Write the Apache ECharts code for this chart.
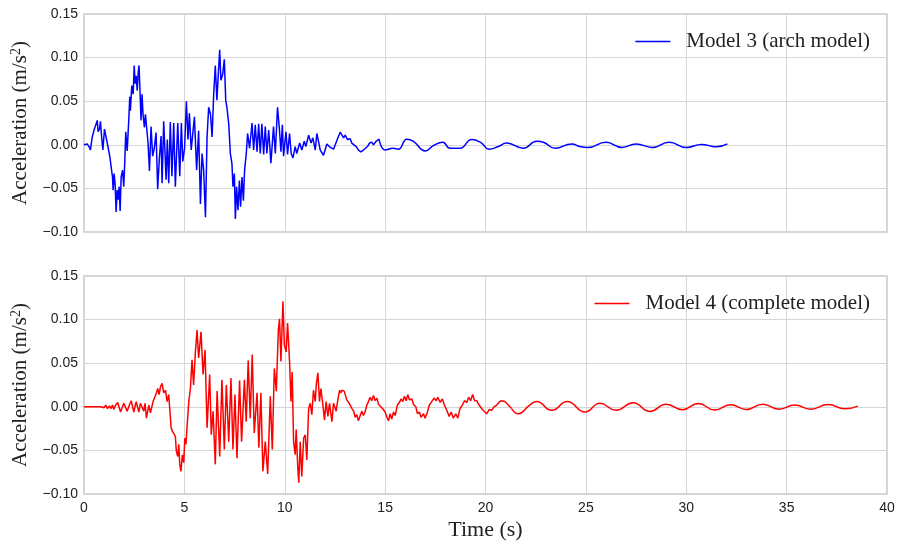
<!DOCTYPE html>
<html>
<head>
<meta charset="utf-8">
<script src="https://cdn.jsdelivr.net/npm/echarts@6/dist/echarts.min.js"></script>
<style>
  html, body { margin: 0; padding: 0; background: #ffffff; }
  #chart { width: 898px; height: 547px; }
</style>
</head>
<body>
<div id="chart"></div>
<script>
// Model 3 (arch model): strong-motion part, [time s, acceleration m/s^2]
const m3Burst = [
  [0.00, 0.000], [0.07, 0.000], [0.16, 0.001], [0.27, -0.003], [0.32, -0.006], [0.41, 0.009],
  [0.49, 0.016], [0.57, 0.018], [0.66, 0.028], [0.70, 0.015], [0.77, 0.018], [0.82, 0.027],
  [0.87, 0.011], [0.94, -0.006], [1.02, 0.018], [1.09, 0.019], [1.15, 0.003], [1.24, 0.001],
  [1.29, -0.014], [1.35, -0.025], [1.42, -0.037], [1.45, -0.052], [1.50, -0.033], [1.55, -0.045],
  [1.60, -0.077], [1.65, -0.052], [1.70, -0.063], [1.75, -0.048], [1.80, -0.076], [1.85, -0.037],
  [1.92, -0.029], [1.98, -0.048], [2.03, -0.021], [2.08, 0.015], [2.15, -0.007], [2.23, 0.028],
  [2.28, 0.055], [2.31, 0.039], [2.38, 0.068], [2.45, 0.058], [2.50, 0.091], [2.55, 0.070],
  [2.60, 0.079], [2.65, 0.062], [2.70, 0.083], [2.74, 0.091], [2.79, 0.062], [2.84, 0.028],
  [2.89, 0.058], [2.94, 0.035], [3.01, 0.020], [3.06, 0.035], [3.10, 0.034], [3.19, 0.002],
  [3.26, -0.030], [3.34, 0.021], [3.42, -0.013], [3.50, -0.004], [3.59, 0.014], [3.67, -0.051],
  [3.75, -0.017], [3.84, 0.010], [3.89, -0.044], [3.97, 0.027], [4.09, -0.040], [4.15, 0.006],
  [4.22, -0.044], [4.30, 0.026], [4.38, -0.036], [4.47, 0.025], [4.55, -0.048], [4.67, 0.025],
  [4.77, -0.036], [4.85, 0.025], [4.92, -0.019], [5.01, -0.004], [5.10, 0.050], [5.18, 0.006],
  [5.25, 0.036], [5.34, -0.006], [5.42, -0.006], [5.50, 0.032], [5.61, -0.029], [5.71, 0.016],
  [5.80, -0.068], [5.88, -0.010], [5.96, -0.029], [6.05, -0.083], [6.13, 0.009], [6.21, 0.043],
  [6.30, 0.035], [6.38, 0.009], [6.46, 0.058], [6.54, 0.091], [6.62, 0.051], [6.69, 0.081],
  [6.76, 0.109], [6.82, 0.074], [6.91, 0.081], [6.99, 0.098], [7.06, 0.051], [7.12, 0.043],
  [7.21, 0.024], [7.29, -0.010], [7.37, -0.022], [7.42, -0.048], [7.49, -0.033], [7.54, -0.085],
  [7.60, -0.048], [7.67, -0.075], [7.74, -0.041], [7.80, -0.071], [7.87, -0.037], [7.94, -0.064],
  [8.00, -0.029], [8.08, -0.011], [8.15, 0.013], [8.25, -0.004], [8.37, 0.025], [8.45, -0.006],
  [8.53, 0.023], [8.62, -0.008], [8.70, 0.024], [8.78, -0.010], [8.86, 0.024], [8.95, -0.011],
  [9.03, 0.021], [9.11, -0.010], [9.20, 0.017], [9.31, -0.021], [9.44, 0.021], [9.53, -0.010],
  [9.64, 0.043], [9.73, 0.019], [9.81, -0.008], [9.88, 0.023], [9.94, -0.013], [10.06, 0.015],
  [10.14, -0.011], [10.24, 0.013], [10.32, -0.010], [10.41, -0.015], [10.52, -0.002], [10.60, -0.010],
  [10.74, 0.002], [10.85, -0.006], [10.97, 0.004], [11.05, -0.002], [11.19, 0.011], [11.31, 0.002],
  [11.40, 0.008], [11.52, -0.006], [11.60, 0.013], [11.77, -0.006], [11.93, -0.012], [12.10, 0.001],
  [12.27, -0.003], [12.43, -0.005], [12.63, 0.007], [12.76, 0.0145], [12.93, 0.008], [13.01, 0.011],
  [13.13, 0.006], [13.26, 0.007], [13.34, 0.002], [13.42, 0.004], [13.56, -0.002], [13.67, -0.006],
  [13.79, -0.008], [13.92, -0.006], [14.00, -0.008], [14.12, -0.002], [14.22, 0.002], [14.33, 0.003],
  [14.42, 0.000], [14.55, 0.004], [14.70, 0.0065]
];

// Model 3: free-vibration tail
const m3Tail = [
  [14.70, 0.0065], [15.00, -0.006], [15.40, -0.004], [15.66, -0.005],
  [16.08, 0.0065], [16.41, 0.004], [17.00, -0.007], [17.40, -0.001], [17.87, 0.003], [18.23, -0.004],
  [18.73, -0.004], [19.31, 0.006], [19.80, 0.002], [20.17, -0.005], [20.64, -0.002], [21.05, 0.002],
  [21.88, -0.004], [22.55, 0.004], [22.88, 0.003], [23.46, -0.004], [24.30, 0.001], [24.70, -0.002],
  [25.10, -0.003], [26.00, 0.003], [26.80, -0.003], [27.50, 0.001], [28.30, -0.003], [29.15, 0.003],
  [30.00, -0.003], [30.76, 0.0004], [31.50, -0.0023], [32.05, 0.001]
];

// Model 4 (complete model): strong-motion part
const m4Burst = [
  [0.00, 0.000], [0.82, 0.000], [0.90, 0.001], [1.00, -0.001], [1.08, 0.002], [1.17, -0.002],
  [1.27, 0.001], [1.35, -0.002], [1.42, 0.002], [1.48, -0.003], [1.58, 0.002], [1.68, 0.005],
  [1.82, -0.006], [1.98, 0.004], [2.15, -0.005], [2.26, 0.002], [2.35, 0.007], [2.48, -0.006],
  [2.60, 0.006], [2.73, -0.006], [2.81, 0.004], [2.89, 0.003], [2.98, -0.005], [3.04, 0.004],
  [3.11, -0.013], [3.23, 0.002], [3.31, -0.007], [3.44, 0.006], [3.51, 0.010], [3.61, 0.016],
  [3.67, 0.021], [3.74, 0.014], [3.81, 0.023], [3.89, 0.027], [3.97, 0.016], [4.06, 0.019],
  [4.14, 0.006], [4.22, 0.014], [4.27, -0.002], [4.34, -0.024], [4.40, -0.028], [4.47, -0.026],
  [4.55, -0.034], [4.60, -0.051], [4.67, -0.057], [4.72, -0.043], [4.77, -0.066], [4.83, -0.074],
  [4.90, -0.055], [4.97, -0.064], [5.02, -0.036], [5.08, -0.043], [5.13, -0.024], [5.22, 0.006],
  [5.30, 0.021], [5.38, 0.054], [5.46, 0.025], [5.55, 0.063], [5.63, 0.088], [5.71, 0.056],
  [5.83, 0.086], [5.93, 0.037], [6.03, 0.065], [6.13, -0.024], [6.26, 0.037], [6.34, -0.032],
  [6.43, -0.005], [6.54, -0.066], [6.63, 0.018], [6.76, -0.057], [6.87, 0.031], [6.99, -0.049],
  [7.09, 0.025], [7.21, -0.040], [7.32, 0.033], [7.42, -0.049], [7.52, 0.014], [7.62, -0.059],
  [7.75, 0.030], [7.85, -0.040], [7.99, 0.031], [8.08, -0.017], [8.18, 0.053], [8.28, -0.013],
  [8.38, 0.060], [8.48, -0.030], [8.62, 0.016], [8.71, -0.047], [8.81, 0.016], [8.91, -0.074],
  [9.03, -0.040], [9.15, -0.077], [9.28, 0.012], [9.38, -0.049], [9.48, 0.044], [9.58, 0.018],
  [9.68, 0.088], [9.74, 0.101], [9.81, 0.052], [9.91, 0.121], [9.98, 0.071], [10.07, 0.063],
  [10.14, 0.096], [10.24, 0.052], [10.31, 0.006], [10.37, 0.040], [10.44, -0.040], [10.52, -0.055],
  [10.57, -0.026], [10.65, -0.070], [10.70, -0.087], [10.77, -0.040], [10.85, -0.080], [10.94, -0.036],
  [11.02, -0.032], [11.10, -0.061], [11.19, -0.002], [11.27, 0.004], [11.35, -0.009], [11.43, 0.019],
  [11.52, 0.006], [11.57, 0.025], [11.65, 0.039], [11.73, 0.006], [11.80, 0.021], [11.90, 0.002],
  [11.98, -0.015], [12.06, 0.006], [12.15, -0.011], [12.23, 0.004], [12.35, -0.017], [12.43, 0.004],
  [12.56, -0.005], [12.63, 0.006], [12.73, 0.019], [12.80, 0.016], [12.85, 0.019], [12.96, 0.018],
  [13.09, 0.008], [13.18, 0.005], [13.26, 0.002], [13.35, -0.002], [13.43, -0.005], [13.51, -0.012],
  [13.59, -0.009], [13.67, -0.016], [13.76, -0.010], [13.84, -0.005], [13.92, -0.010], [14.00, -0.006],
  [14.09, 0.002], [14.17, 0.006], [14.25, 0.011], [14.33, 0.007], [14.42, 0.013], [14.50, 0.007],
  [14.59, 0.010], [14.67, 0.003], [14.75, 0.005], [14.87, -0.002], [15.00, -0.006], [15.09, -0.012],
  [15.17, -0.016], [15.25, -0.008], [15.33, -0.014], [15.42, -0.006], [15.50, -0.010], [15.61, 0.002],
  [15.71, 0.005], [15.80, 0.009], [15.88, 0.006], [15.96, 0.012], [16.05, 0.007], [16.13, 0.014],
  [16.21, 0.008], [16.33, 0.009], [16.41, 0.003], [16.53, 0.000], [16.61, -0.008], [16.71, -0.006],
  [16.79, -0.012], [16.91, -0.008], [16.99, -0.013], [17.11, -0.006], [17.20, 0.002], [17.32, 0.006],
  [17.44, 0.010], [17.54, 0.007], [17.62, 0.011], [17.74, 0.005], [17.85, 0.009], [17.95, 0.002],
  [18.07, -0.004], [18.19, -0.011], [18.29, -0.006], [18.40, -0.013], [18.52, -0.008], [18.62, -0.013],
  [18.73, -0.002], [18.85, 0.002], [18.95, 0.007], [19.07, 0.005], [19.16, 0.011], [19.26, 0.007],
  [19.36, 0.014], [19.46, 0.007], [19.56, 0.007], [19.68, 0.002], [19.81, -0.002], [19.93, -0.005],
  [20.06, -0.008], [20.19, -0.003], [20.31, -0.004], [20.42, 0.000], [20.56, 0.002], [20.67, 0.005],
  [20.77, 0.007], [20.85, 0.008], [20.97, 0.006], [21.14, 0.002], [21.30, -0.002]
];

// Model 4: free-vibration tail
const m4Tail = [
  [21.30, -0.002], [21.63, -0.008], [22.20, 0.002], [22.55, 0.006], [23.30, -0.004], [24.07, 0.006],
  [24.95, -0.006], [25.70, 0.004], [26.50, -0.004], [27.35, 0.0046], [28.18, -0.0053], [29.00, 0.003],
  [29.80, -0.0034], [30.60, 0.0038], [31.42, -0.0038], [32.20, 0.0023], [33.00, -0.003], [33.80, 0.003],
  [34.62, -0.0027], [35.40, 0.002], [36.20, -0.0027], [37.06, 0.0027], [37.90, -0.0023], [38.55, 0.0008]
];

const seriesNames = ['Model 3 (arch model)', 'Model 4 (complete model)'];
const xTicks = { min: 0, max: 40, step: 5 };
const yTicks = { min: -0.10, max: 0.15, step: 0.05 };
const xTitle = 'Time (s)';
const yTitle = 'Acceleration (m/s{sup|2})';

const SERIF = '"Liberation Serif", "DejaVu Serif", serif';
const SANS = '"Liberation Sans", Arial, sans-serif';
const gridLine = '#d6d6d6';
const frame = '#c8c8c8';

const chart = echarts.init(document.getElementById('chart'), null, { renderer: 'canvas' });

function fmtY(v) {
  const s = Math.abs(v).toFixed(2);
  return (v < -1e-9 ? '\u2212' : '') + s;
}

function xAxis(idx, showLabels) {
  return {
    type: 'value', gridIndex: idx,
    min: xTicks.min, max: xTicks.max, interval: xTicks.step,
    axisLine: { show: false }, axisTick: { show: false },
    splitLine: { show: true, lineStyle: { color: gridLine, width: 1 } },
    axisLabel: { show: showLabels, color: '#222', fontFamily: SANS, fontSize: 14, margin: 7 },
    name: showLabels ? xTitle : '', nameLocation: 'middle', nameGap: 25,
    nameTextStyle: { fontFamily: SERIF, fontSize: 22, color: '#222' }
  };
}

function yAxis(idx) {
  return {
    type: 'value', gridIndex: idx,
    min: yTicks.min, max: yTicks.max, interval: yTicks.step,
    axisLine: { show: false }, axisTick: { show: false },
    splitLine: { show: true, lineStyle: { color: gridLine, width: 1 } },
    axisLabel: { color: '#222', fontFamily: SANS, fontSize: 14, margin: 6, formatter: fmtY },
    name: yTitle, nameLocation: 'middle', nameGap: 52, nameRotate: 90,
    nameTextStyle: {
      fontFamily: SERIF, fontSize: 21, color: '#222',
      rich: { sup: { fontFamily: SERIF, fontSize: 14, color: '#222', verticalAlign: 'bottom', padding: [0, 0, 9, 0] } }
    }
  };
}

function line(name, data, idx, color, smooth) {
  return {
    type: 'line', name: name, data: data, xAxisIndex: idx, yAxisIndex: idx,
    symbol: 'none', smooth: smooth, animation: false,
    lineStyle: { color: color, width: 1.5 }, itemStyle: { color: color }
  };
}

function legend(name, top) {
  return {
    data: [name], right: 23, top: top, icon: 'rect', itemWidth: 35, itemHeight: 1.6,
    textStyle: { fontFamily: SERIF, fontSize: 21, color: '#222', padding: [0, 0, 0, 11] }
  };
}

chart.setOption({
  backgroundColor: '#ffffff',
  animation: false,
  grid: [
    { left: 84, right: 11, top: 14, height: 218, show: true, borderColor: frame, borderWidth: 1.5, backgroundColor: 'transparent' },
    { left: 84, right: 11, top: 276, height: 218, show: true, borderColor: frame, borderWidth: 1.5, backgroundColor: 'transparent' }
  ],
  legend: [legend(seriesNames[0], 26), legend(seriesNames[1], 288)],
  xAxis: [xAxis(0, false), xAxis(1, true)],
  yAxis: [yAxis(0), yAxis(1)],
  series: [
    line(seriesNames[0], m3Burst, 0, '#0000ff', false),
    line(seriesNames[0], m3Tail, 0, '#0000ff', 0.5),
    line(seriesNames[1], m4Burst, 1, '#ff0000', false),
    line(seriesNames[1], m4Tail, 1, '#ff0000', 0.5)
  ]
});
</script>
</body>
</html>
